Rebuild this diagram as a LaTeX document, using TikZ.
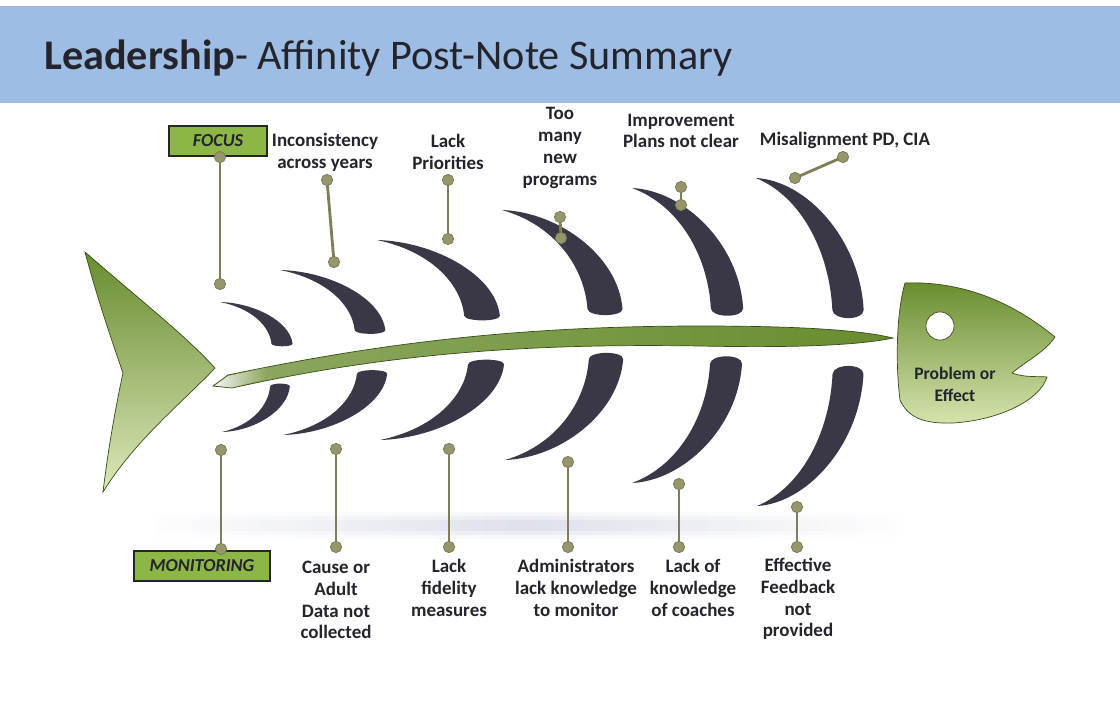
\documentclass[tikz,border=0pt]{standalone}
\usepackage{fontspec}
\setmainfont{Carlito}
\usetikzlibrary{positioning, calc}

\definecolor{barblue}{RGB}{157,189,229}
\definecolor{bonegray}{RGB}{58,56,70}
\definecolor{stalkcol}{RGB}{126,126,90}
\definecolor{stalkdot}{RGB}{150,150,108}
\definecolor{fishdark}{RGB}{104,140,46}
\definecolor{fishlight}{RGB}{196,216,140}
\definecolor{tagfill}{RGB}{140,182,70}
\definecolor{inkdark}{RGB}{36,36,44}
\definecolor{shadowcol}{RGB}{170,178,205}

\tikzset{
  lbl/.style={font=\fontsize{13.5}{15.5}\selectfont\bfseries, text=inkdark, align=center, inner sep=0pt},
  tagbox/.style={draw=black!85, line width=1.4pt, fill=tagfill, text=inkdark,
    font=\fontsize{13}{14}\selectfont\bfseries\itshape, inner sep=0pt, minimum height=22pt},
  stalk/.style={stalkcol, line width=2pt},
  bone/.style={fill=bonegray},
  fishpart/.style={draw=fishdark!55!black, line width=0.5pt}
}

\begin{document}
\begin{tikzpicture}[x=0.025cm,y=-0.025cm]
\useasboundingbox (0,0) rectangle (1120,700);
\fill[white] (0,0) rectangle (1120,700);
\fill[barblue] (0,6) rectangle (1120,103);
\node[anchor=base west, inner sep=0pt, text=inkdark, font=\fontsize{30}{32}\selectfont] (title) at (44,69)
  {\textbf{Leadership}- Affinity Post-Note Summary};

% soft shadow under the fish
\foreach \h/\o in {13/0.10, 9/0.14, 5/0.18}
  \shade[left color=white, right color=white, middle color=shadowcol, opacity=\o]
    (150,525-\h) rectangle (900,525+\h);

% tail
\shade[fishpart, top color=fishdark, bottom color=fishlight!60!white]
  (85,252) .. controls (140,300) and (185,335) .. (215,368)
  .. controls (185,400) and (135,440) .. (103,492)
  .. controls (108,450) and (116,405) .. (123,373)
  .. controls (108,330) and (95,290) .. (85,252) -- cycle;

% spine, with a pale tip at the tail end
\shade[fishpart, left color=fishdark!75!white, right color=fishdark]
  (213,386) -- (228,375) .. controls (380,343) and (520,326) .. (700,326)
  .. controls (800,326) and (860,330) .. (893,338)
  .. controls (860,345) and (800,348) .. (700,346)
  .. controls (520,343) and (380,355) .. (232,388) -- cycle;
\shade[left color=white!90!gray, right color=fishdark!75!white]
  (215,385.5) -- (228,376) -- (265,368) -- (265,379) -- (232,387.5) -- cycle;

% bones, upper row then lower row
\foreach \bx/\by/\dx/\dy in {282/345/62/43, 370/332/90/62, 482/318/105/78,
                             605/312/103/102, 727/312/95/124, 848/314/92/136}
  \fill[bone, shift={(\bx,\by)}, xscale=\dx, yscale=\dy]
    (-1,-1) .. controls (-0.45,-0.98) and (0.13,-0.55) .. (0.17,-0.03)
    .. controls (0.17,0.05) and (-0.16,0.05) .. (-0.17,-0.03)
    .. controls (-0.2,-0.45) and (-0.5,-0.86) .. (-1,-1);
\foreach \bx/\by/\dx/\dy in {280/385/58/47, 372/372/89/63, 486/362/106/78,
                             606/356/101/104, 726/360/94/123, 848/370/91/136}
  \fill[bone, shift={(\bx,\by)}, xscale=\dx, yscale=-\dy]
    (-1,-1) .. controls (-0.45,-0.98) and (0.13,-0.55) .. (0.17,-0.03)
    .. controls (0.17,0.05) and (-0.16,0.05) .. (-0.17,-0.03)
    .. controls (-0.2,-0.45) and (-0.5,-0.86) .. (-1,-1);

% head
\shade[fishpart, top color=fishdark, bottom color=fishlight!70!white]
  (905,283) .. controls (960,281) and (1010,300) .. (1055,337)
  .. controls (1045,352) and (1025,362) .. (1012,373)
  .. controls (1025,378) and (1040,376) .. (1047,377)
  .. controls (1040,400) and (1000,420) .. (953,423)
  .. controls (925,424) and (908,418) .. (900,400)
  .. controls (895,360) and (897,310) .. (905,283) -- cycle;
\filldraw[fill=white, draw=fishdark!55!black, line width=0.5pt] (940,326) circle[radius=10pt];
\node[lbl, font=\fontsize{12.5}{15.5}\selectfont\bfseries] (effect) at (955,384) {Problem or\\Effect};

% labels above the spine
\node[tagbox, minimum width=70pt] (U-1) at (218,141) {FOCUS};
\foreach \T/\x/\y [count=\Y from 2] in {{Inconsistency\\across years}/325/152,
    {Lack\\Priorities}/448/152, {Too\\many\\new\\programs}/560/148,
    {Improvement\\Plans not clear}/681/131, {Misalignment PD, CIA}/845/140}
  \node[lbl] (U-\Y) at (\x,\y) {\T};

% labels below the spine
\node[tagbox, minimum width=97pt] (L-1) at (202,566) {MONITORING};
\foreach \T/\x/\y [count=\Y from 2] in {{Cause or\\Adult\\Data not\\collected}/336/600,
    {Lack\\fidelity\\measures}/449/588, {Administrators\\lack knowledge\\to monitor}/576/588,
    {Lack of\\knowledge\\of coaches}/693/588, {Effective\\Feedback\\not\\provided}/798/599}
  \node[lbl] (L-\Y) at (\x,\y) {\T};

% stalks with their end dots
\foreach \xa/\ya/\xb/\yb [count=\Y] in {220/157/220/284, 327/180/334/262, 448/180/448/239,
    560/217/561/238, 681/187/681/205, 843/157/795/178,
    221/450/221/549, 336/449/336/547, 449/449/449/547,
    568/462/568/547, 679/484/679/547, 797/507/797/547}
  {\coordinate (sa-\Y) at (\xa,\ya);
   \coordinate (sb-\Y) at (\xb,\yb);
   \draw[stalk] (sa-\Y) -- (sb-\Y);
   \filldraw[fill=stalkdot, draw=stalkcol, line width=0.6pt] (sa-\Y) circle[radius=4pt] (sb-\Y) circle[radius=4pt];}
\end{tikzpicture}
\end{document}
